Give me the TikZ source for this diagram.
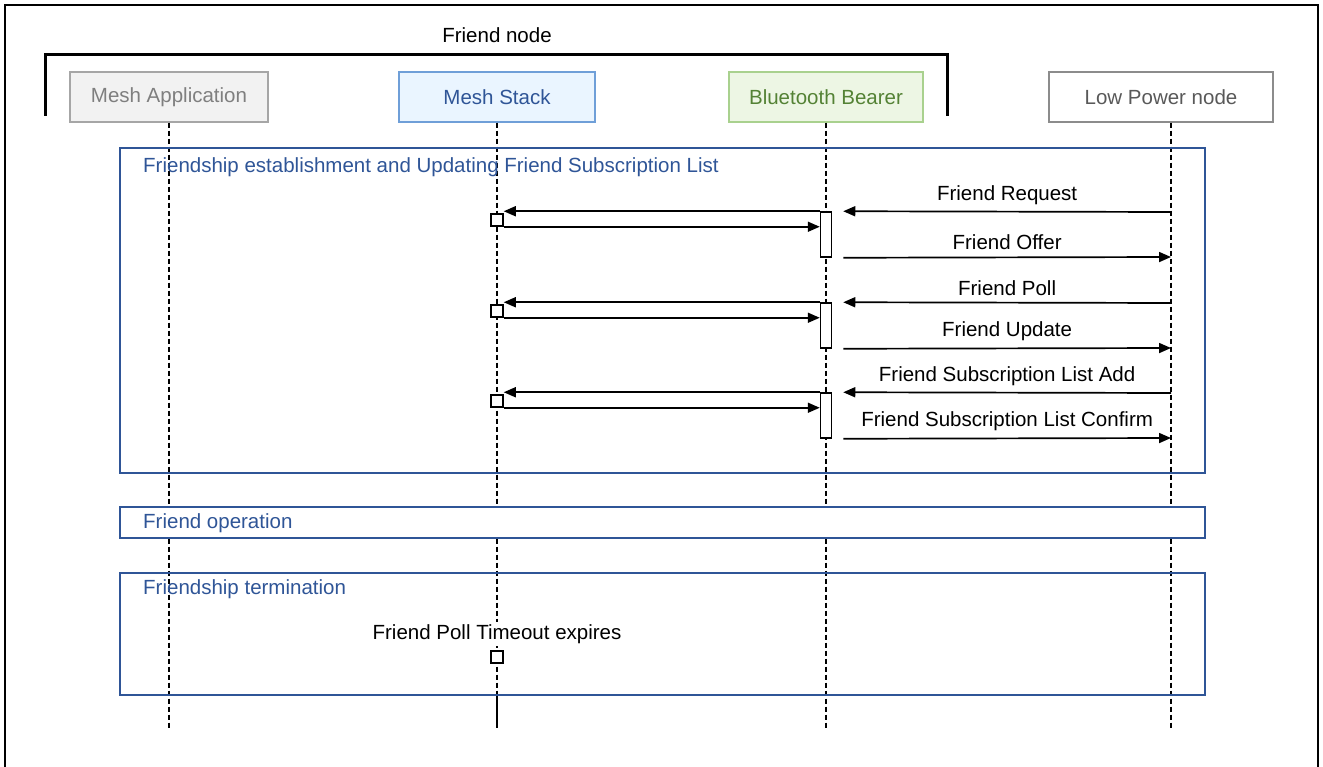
\documentclass[tikz,border=0pt]{standalone}
\usepackage{fontspec}
\setmainfont{Liberation Sans}
\usetikzlibrary{arrows.meta,positioning}

\definecolor{frameblue}{HTML}{2F5597}
\definecolor{appfill}{HTML}{F2F2F2}
\definecolor{appline}{HTML}{A6A6A6}
\definecolor{apptext}{HTML}{7F7F7F}
\definecolor{stackfill}{HTML}{EAF5FF}
\definecolor{stackline}{HTML}{6F9FD8}
\definecolor{bearerfill}{HTML}{EDF6E4}
\definecolor{bearerline}{HTML}{A9D18E}
\definecolor{bearertext}{HTML}{548235}
\definecolor{lpnline}{HTML}{8C8C8C}
\definecolor{lpntext}{HTML}{595959}

\begin{document}
\begin{tikzpicture}[x=1pt, y=-1pt,
    font=\fontsize{20.5}{24}\selectfont,
    actor/.style={rectangle, draw, line width=1.2pt, minimum height=50pt, inner sep=0pt},
    lifeline/.style={line width=1.5pt, dash pattern=on 5pt off 3pt},
    activation/.style={rectangle, draw, fill=white, line width=1.5pt, minimum width=11pt, minimum height=45pt, inner sep=0pt},
    marker/.style={rectangle, draw, fill=white, line width=1.5pt, minimum size=12pt, inner sep=0pt},
    msg/.style={line width=1.7pt, -{Triangle[length=12pt,width=10pt]}},
    msglabel/.style={midway, above=3pt, text=black},
    phase/.style={rectangle, draw=frameblue, line width=1.8pt, inner sep=0pt},
    phasetitle/.style={text=frameblue, anchor=west, inner sep=0pt}
]
    \useasboundingbox (0,0) rectangle (1323,767);

    % Cadre
    \draw[line width=2pt] (5,767) -- (5,5) -- (1318,5) -- (1318,767);

    % Friend node
    \node (friendlbl) at (497,35) {Friend node};
    \draw[line width=3pt] (45,116) -- (45,55) -- (947,55) -- (947,116);

    % Participants
    \node[actor, fill=appfill, draw=appline, text=apptext, minimum width=198pt] (app) at (169,97) {Mesh Application};
    \node[actor, fill=stackfill, draw=stackline, text=frameblue, minimum width=196pt] (stack) at (497,97) {Mesh Stack};
    \node[actor, fill=bearerfill, draw=bearerline, text=bearertext, minimum width=194pt] (bearer) at (826,97) {Bluetooth Bearer};
    \node[actor, fill=white, draw=lpnline, text=lpntext, minimum width=224pt] (lpn) at (1161,97) {Low Power node};

    % Lignes de vie
    \coordinate (appEnd) at (169,728);
    \coordinate (stackMid) at (497,695);
    \coordinate (stackEnd) at (497,728);
    \coordinate (bearerEnd) at (826,728);
    \coordinate (lpnEnd) at (1171,728);
    \draw[lifeline] (app.south) -- (appEnd);
    \draw[lifeline] (stack.south) -- (stackMid);
    \draw[line width=1.5pt] (stackMid) -- (stackEnd);
    \draw[lifeline] (bearer.south) -- (bearerEnd);
    \draw[lifeline] (lpn.south -| lpnEnd) -- (lpnEnd);

    % Phases
    \node[phase, minimum width=1085pt, minimum height=325pt] (estab) at (662.5,310.5) {};
    \node[phasetitle] (estabtitle) at (143,167) {Friendship establishment and Updating Friend Subscription List};
    \node[phase, fill=white, minimum width=1085pt, minimum height=31pt] (oper) at (662.5,522.5) {};
    \node[phasetitle] (opertitle) at (143,523) {Friend operation};
    \node[phase, minimum width=1085pt, minimum height=122pt] (term) at (662.5,634) {};
    \node[phasetitle] (termtitle) at (143,589) {Friendship termination};

    % Friend Request / Offer
    \node[activation] (act1) at (826,234.5) {};
    \node[marker] (sq1) at (497,220) {};
    \coordinate (lp1) at (1171,212);
    \coordinate (lp2) at (1171,257);
    \draw[msg] (lp1) -- ([xshift=11pt]act1.north east) node[msglabel] {Friend Request};
    \draw[msg] (act1.north west) -- (act1.north west -| sq1.east);
    \draw[msg] (sq1.south east) -- (sq1.south east -| act1.west);
    \draw[msg] ([xshift=11pt]act1.south east) -- (lp2) node[msglabel] {Friend Offer};

    % Friend Poll / Update
    \node[activation] (act2) at (826,325.5) {};
    \node[marker] (sq2) at (497,311) {};
    \coordinate (lp3) at (1171,303);
    \coordinate (lp4) at (1171,348);
    \draw[msg] (lp3) -- ([xshift=11pt]act2.north east) node[msglabel] {Friend Poll};
    \draw[msg] (act2.north west) -- (act2.north west -| sq2.east);
    \draw[msg] (sq2.south east) -- (sq2.south east -| act2.west);
    \draw[msg] ([xshift=11pt]act2.south east) -- (lp4) node[msglabel] {Friend Update};

    % Friend Subscription List
    \node[activation] (act3) at (826,415.5) {};
    \node[marker] (sq3) at (497,401) {};
    \coordinate (lp5) at (1171,393);
    \coordinate (lp6) at (1171,438);
    \draw[msg] (lp5) -- ([xshift=11pt]act3.north east) node[msglabel] {Friend Subscription List Add};
    \draw[msg] (act3.north west) -- (act3.north west -| sq3.east);
    \draw[msg] (sq3.south east) -- (sq3.south east -| act3.west);
    \draw[msg] ([xshift=11pt]act3.south east) -- (lp6) node[msglabel] {Friend Subscription List Confirm};

    % Fin de l'amitie
    \node[fill=white, inner sep=2pt] (timeout) at (497,634) {Friend Poll Timeout expires};
    \node[marker] (expire) at (497,657) {};

\end{tikzpicture}
\end{document}
